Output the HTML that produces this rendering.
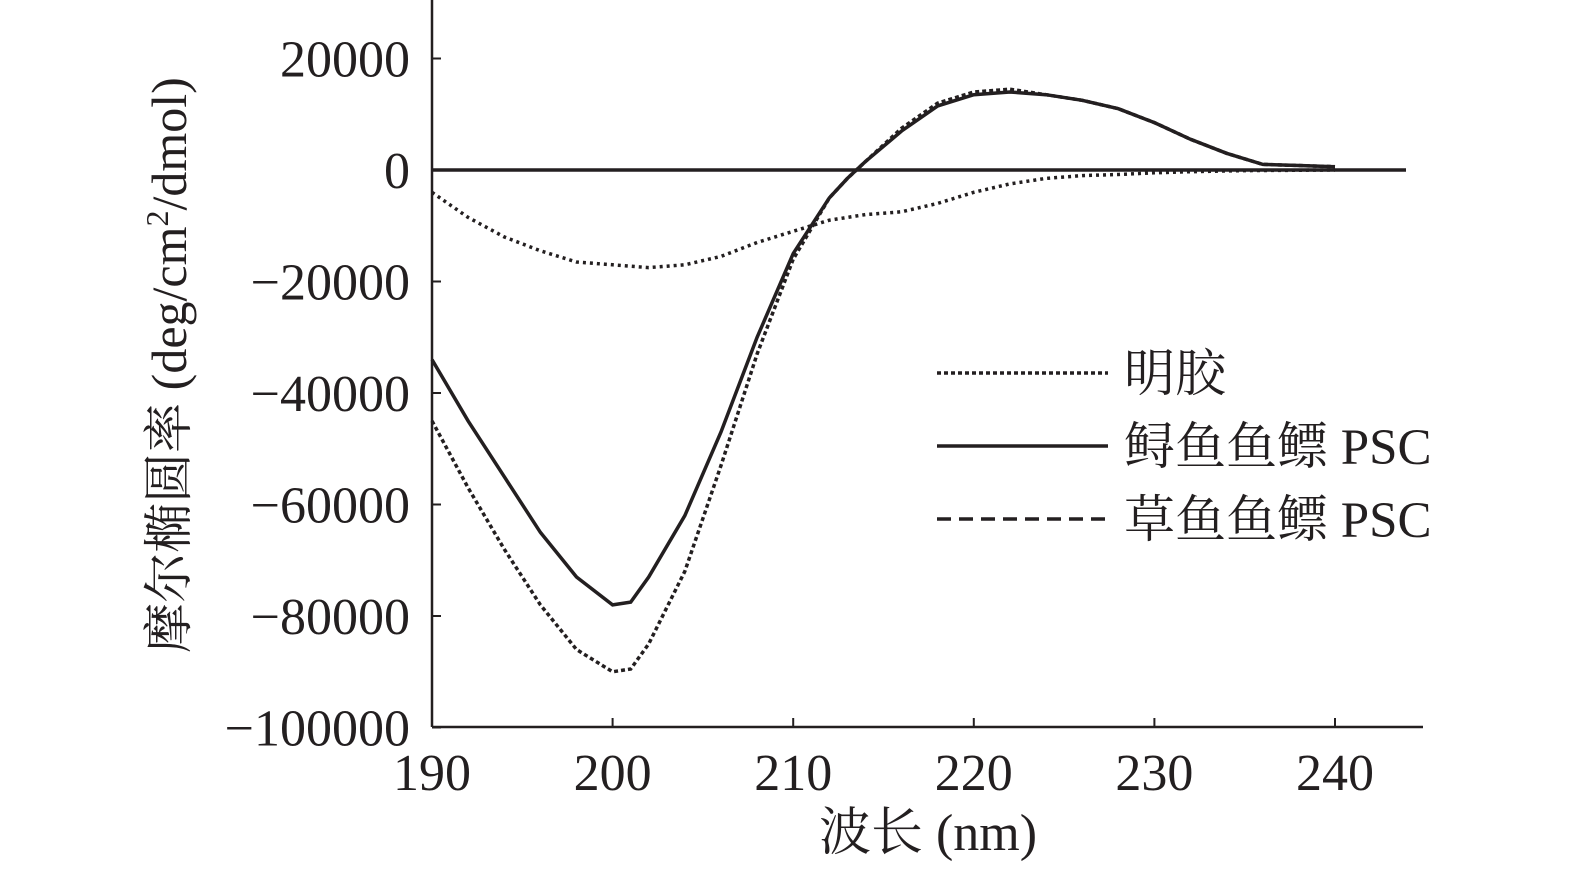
<!DOCTYPE html>
<html><head><meta charset="utf-8"><style>
body{margin:0;background:#fff}
svg text{font-family:"Liberation Serif","Noto Serif CJK SC",serif;fill:#231f20}
</style></head><body>
<svg id="chart" width="1575" height="870" viewBox="0 0 1575 870" xmlns="http://www.w3.org/2000/svg">
<g id="axes"></g>
<g id="series"></g>
<g id="legend"></g>
</svg>
<script>
const xTicks=[190,200,210,220,230,240];
const yTicks=[20000,0,-20000,-40000,-60000,-80000,-100000];
const gelatinX=[190,192,194,196,198,200,202,204,206,208,210,212,214,216,218,220,222,224,226,228,230,232,235,240];
const gelatinY=[-4000,-8500,-12000,-14500,-16500,-17000,-17500,-17000,-15500,-13000,-11000,-9000,-8000,-7500,-6000,-4000,-2500,-1500,-1000,-800,-500,-300,-100,0];
const sturgeonX=[190,192,194,196,198,200,201,202,204,206,208,210,212,213,214,216,218,220,222,224,226,228,230,232,234,236,238,240];
const sturgeonY=[-34000,-45000,-55000,-65000,-73000,-78000,-77500,-73000,-62000,-47000,-30000,-15000,-5000,-1500,1500,7000,11500,13500,14000,13500,12500,11000,8500,5500,3000,1000,800,600];
const carpX=[190,192,194,196,198,200,201,202,204,206,208,210,212,213,214,216,218,220,222,224,226,228,230,232,234,236,238,240];
const carpY=[-45000,-57000,-68000,-78000,-86000,-90000,-89500,-85000,-72000,-53000,-33000,-16000,-5000,-1500,1500,7500,12000,14000,14500,13500,12500,11000,8500,5500,3000,1000,800,600];
const legendLabels=["明胶","鲟鱼鱼鳔 PSC","草鱼鱼鳔 PSC"];

const NS="http://www.w3.org/2000/svg";
const xs=v=>432+(v-190)*18.06;
const ys=v=>170-v*0.005575;
function mk(t,a,p){const e=document.createElementNS(NS,t);for(const k in a)e.setAttribute(k,a[k]);p.appendChild(e);return e;}
const axes=document.getElementById('axes');
let e=mk('line',{x1:432,y1:0,x2:432,y2:727,stroke:'#231f20','stroke-width':2.5},axes);

e=mk('line',{x1:432,y1:727,x2:1423,y2:727,stroke:'#231f20','stroke-width':2.5},axes);

e=mk('line',{x1:432,y1:170,x2:1406,y2:170,stroke:'#231f20','stroke-width':3.5},axes);

xTicks.forEach(v=>{
 const t=mk('line',{x1:xs(v),y1:727,x2:xs(v),y2:718,stroke:'#231f20','stroke-width':2},axes);
 
 const l=mk('text',{x:xs(v),y:790,'text-anchor':'middle','font-size':52},axes);l.textContent=v;
 
});
yTicks.forEach(v=>{
 const t=mk('line',{x1:432,y1:ys(v),x2:441,y2:ys(v),stroke:'#231f20','stroke-width':2},axes);
 
 const l=mk('text',{x:410,y:ys(v)+18,'text-anchor':'end','font-size':52},axes);l.textContent=(v<0?'\u2212'+(-v):v);
 
});
e=mk('text',{x:928,y:850,'text-anchor':'middle','font-size':52},axes);e.textContent='波长 (nm)';

e=mk('text',{x:0,y:0,'text-anchor':'middle','font-size':50,transform:'translate(186,365) rotate(-90)'},axes);
e.innerHTML='摩尔椭圆率 (deg/cm<tspan font-size="32" dy="-18">2</tspan><tspan dy="18">/dmol)</tspan>';


const ser=document.getElementById('series');
const styles=[{d:'3 4',w:3.5},{d:'',w:3.5},{d:'4 3',w:3.5}];
[[gelatinX,gelatinY,'gelatin-line'],[sturgeonX,sturgeonY,'sturgeon-psc-line'],[carpX,carpY,'grass-carp-psc-line']].forEach((s,i)=>{
 const d=s[0].map((x,j)=>(j?'L':'M')+xs(x).toFixed(1)+','+ys(s[1][j]).toFixed(1)).join('');
 const p=mk('path',{d:d,fill:'none',stroke:'#231f20','stroke-width':styles[i].w,'stroke-dasharray':styles[i].d},ser);
 
});
const leg=document.getElementById('legend');
const legDash=['4 3','','14 8'];
legendLabels.forEach((lab,i)=>{
 const y=373+i*73;
 const l=mk('line',{x1:937,y1:y,x2:1108,y2:y,stroke:'#231f20','stroke-width':3.5,'stroke-dasharray':legDash[i]},leg);
 
 const t=mk('text',{x:1124,y:y+18,'font-size':51},leg);t.textContent=lab;
 
});
</script>
</body></html>
